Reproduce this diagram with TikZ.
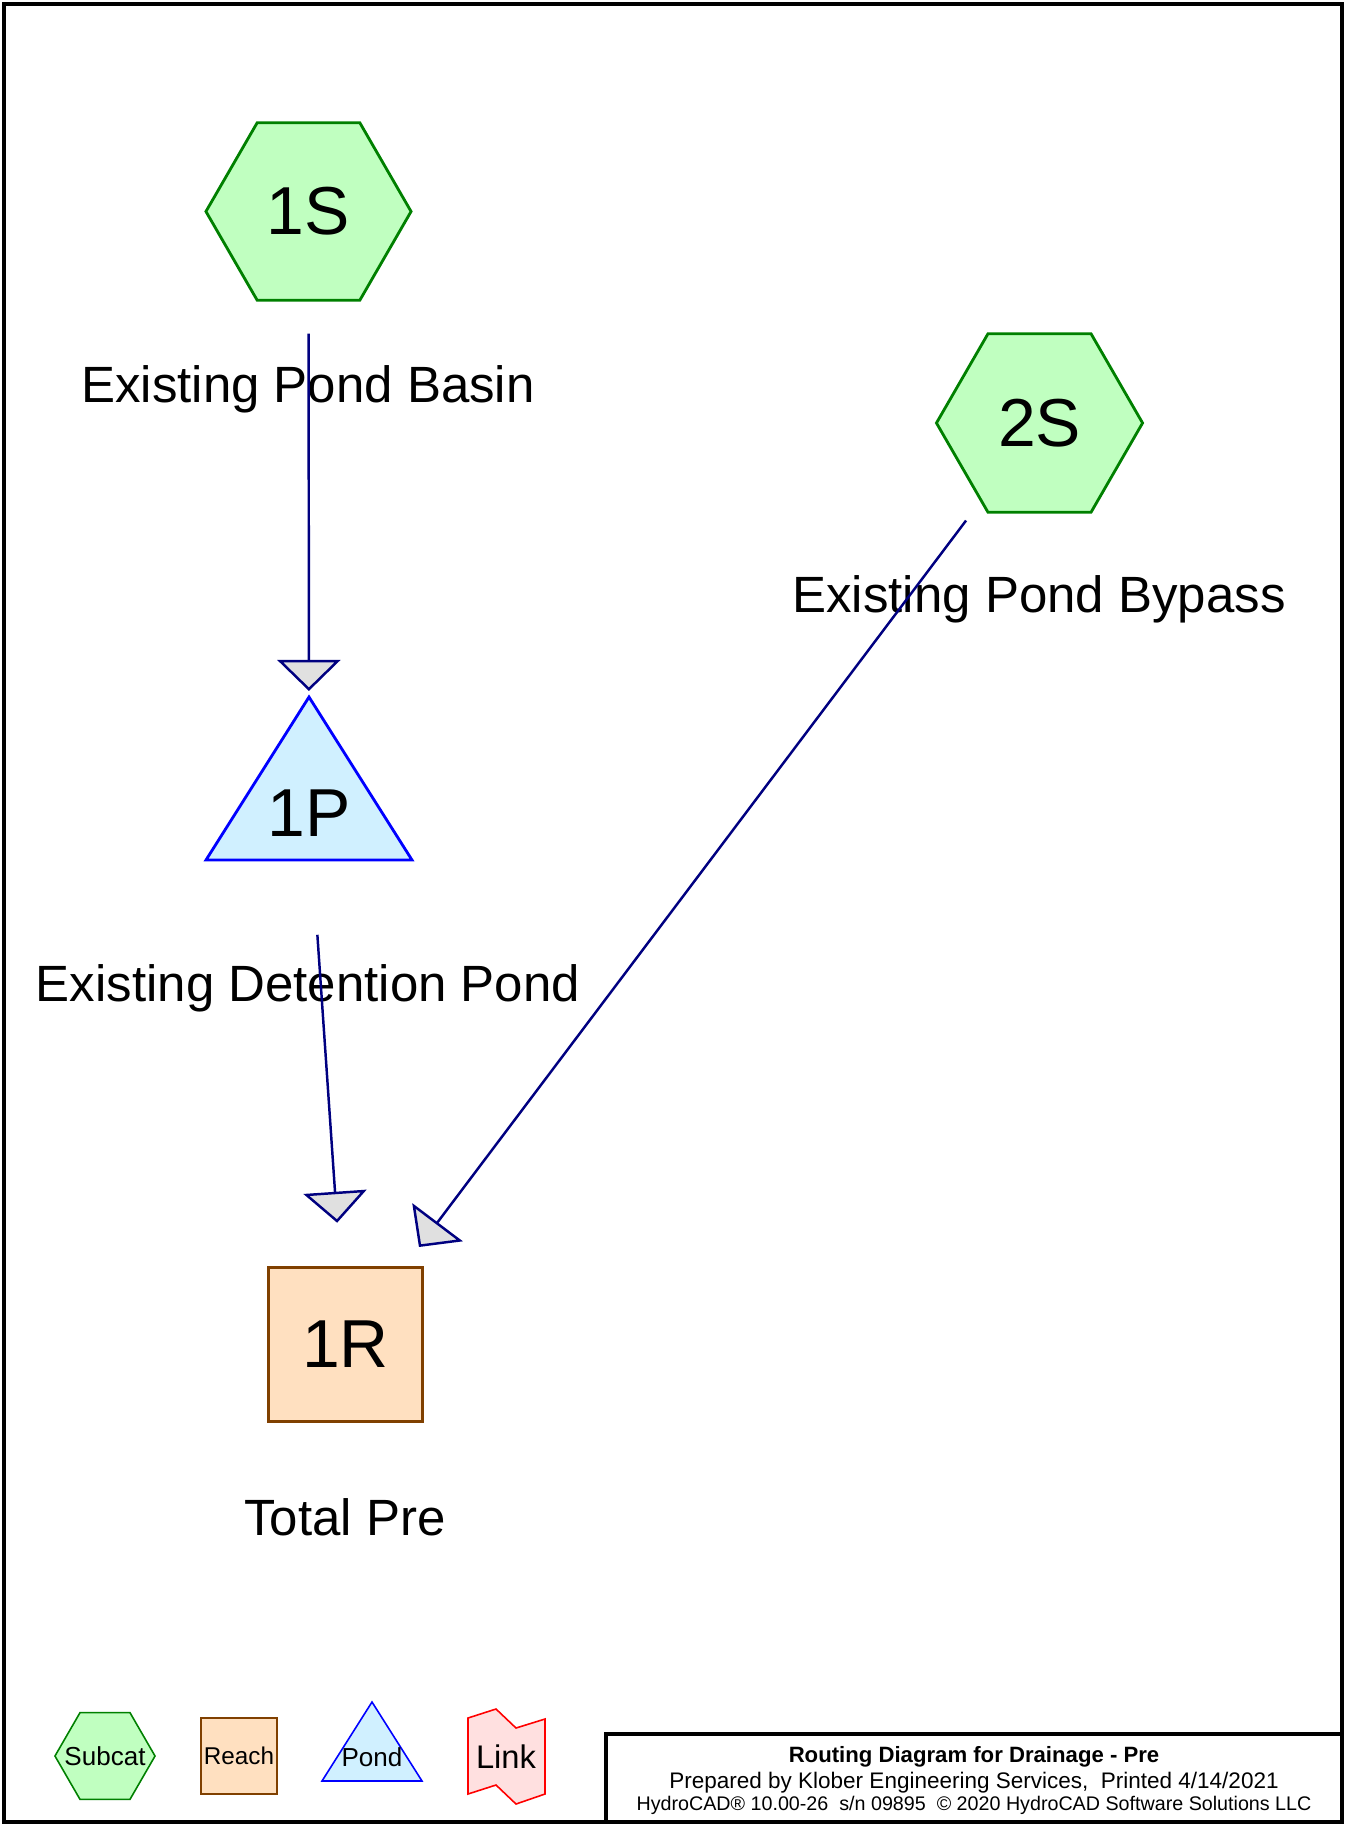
\documentclass[tikz,border=0pt]{standalone}
\usepackage{fontspec}
\setmainfont{Liberation Sans}
\usetikzlibrary{shapes.geometric,arrows.meta}

\definecolor{subfill}{HTML}{C0FFC0}
\definecolor{subline}{HTML}{008000}
\definecolor{reachfill}{HTML}{FFE0C0}
\definecolor{reachline}{HTML}{804000}
\definecolor{pondfill}{HTML}{D0F0FF}
\definecolor{pondline}{HTML}{0000FF}
\definecolor{linkfill}{HTML}{FFE0E0}
\definecolor{linkline}{HTML}{FF0000}
\definecolor{flowline}{HTML}{000080}
\definecolor{tipfill}{HTML}{E0E0E0}

\begin{document}
\begin{tikzpicture}[x=0.01cm, y=-0.01cm,
    subcat/.style={regular polygon, regular polygon sides=6, draw=subline, fill=subfill, inner sep=0pt},
    reach/.style={rectangle, draw=reachline, fill=reachfill, inner sep=0pt},
    pondshape/.style={draw=pondline, fill=pondfill, line join=miter},
    idfont/.style={font=\fontsize{19.3}{20}\selectfont},
    labelfont/.style={font=\fontsize{14.5}{16}\selectfont, anchor=base},
    keyfont/.style={font=\fontsize{7.4}{8}\selectfont},
    flow/.style={draw=flowline, line width=0.7pt, shorten <=1.22cm, shorten >=1.22cm,
        -{Triangle[length=0.31cm, width=0.63cm, fill=tipfill]}}]
    \useasboundingbox (0,0) rectangle (1345,1825);
    \draw[line width=1pt] (4,4) rectangle (1342,1822);

    % subcatchments
    \node[subcat, minimum size=2.05cm, line width=0.8pt, idfont] (S1) at (308.5,211.5) {1S};
    \node[labelfont] (S1lab) at (308,403) {Existing Pond Basin};
    \node[subcat, minimum size=2.06cm, line width=0.8pt, idfont] (S2) at (1039.5,423) {2S};
    \node[labelfont] (S2lab) at (1039,613) {Existing Pond Bypass};

    % pond
    \draw[pondshape, line width=0.8pt] (309,697) -- (412,860) -- (206,860) -- cycle;
    \node[idfont] (P1) at (309,813) {1P};
    \node[labelfont] (P1lab) at (308,1001) {Existing Detention Pond};

    % reach
    \node[reach, minimum size=1.54cm, line width=0.8pt, idfont] (R1) at (345.5,1344.5) {1R};
    \node[labelfont] (R1lab) at (345,1535) {Total Pre};

    % routing
    \draw[flow] (S1.center) -- (P1.center);
    \draw[flow] (P1.center) -- (R1.center);
    \draw[flow] (S2.center) -- (R1.center);

    % legend
    \node[subcat, minimum size=1cm, line width=0.45pt, label={[keyfont]center:Subcat}] (keysub) at (105,1756) {};
    \node[reach, minimum size=0.76cm, line width=0.45pt, font=\fontsize{6.9}{8}\selectfont] (keyreach) at (239,1756) {Reach};
    \draw[pondshape, line width=0.45pt] (372,1702) -- (422,1781) -- (322,1781) -- cycle;
    \node[keyfont] (keypond) at (372,1757) {Pond};
    \draw[draw=linkline, fill=linkfill, line width=0.45pt] (468,1718) -- (496,1709) -- (516,1728) -- (545,1719)
        -- (545,1794) -- (516,1804) -- (496,1785) -- (468,1794) -- cycle;
    \node[font=\fontsize{9.3}{10}\selectfont] (keylink) at (506,1757) {Link};

    % title block
    \draw[line width=0.9pt] (606,1734) rectangle (1342,1822);
    \node[font=\bfseries\fontsize{6.3}{7}\selectfont, anchor=base] (title) at (974,1762) {Routing Diagram for Drainage - Pre};
    \node[font=\fontsize{6.4}{7}\selectfont, anchor=base] (prep) at (974,1788) {Prepared by Klober Engineering Services,\ \ Printed 4/14/2021};
    \node[font=\fontsize{5.6}{6}\selectfont, anchor=base] (soft) at (974,1810) {HydroCAD® 10.00-26\ \ s/n 09895\ \ © 2020 HydroCAD Software Solutions LLC};
\end{tikzpicture}
\end{document}
